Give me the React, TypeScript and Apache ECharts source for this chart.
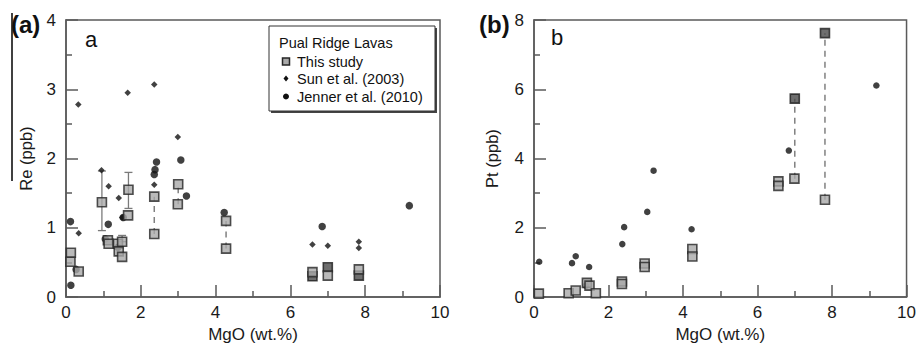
import React, { useEffect, useRef } from "react";
import * as echarts from "echarts";

// ---- Panel a: Re (ppb) vs MgO (wt.%) ----
const reStudyMgO = [0.13, 0.12, 0.34, 0.96, 1.12, 1.14, 1.39, 1.41, 1.5, 1.5, 1.67, 1.66, 2.36, 2.36, 3.0, 2.99, 4.28, 4.28, 6.59, 7.0, 7.83];
const reStudyRe = [0.64, 0.51, 0.37, 1.37, 0.82, 0.77, 0.77, 0.66, 0.8, 0.58, 1.55, 1.18, 1.45, 0.91, 1.63, 1.34, 1.1, 0.7, 0.36, 0.31, 0.4];
const reStudyDarkMgO = [6.59, 7.0, 7.83];
const reStudyDarkRe = [0.3, 0.43, 0.31];
const reSunMgO = [0.33, 1.65, 2.36, 2.99, 0.95, 1.14, 1.41, 1.5, 2.36, 0.34, 6.59, 7.0, 7.83, 7.83];
const reSunRe = [2.78, 2.95, 3.07, 2.31, 1.83, 1.6, 1.43, 1.15, 1.62, 0.92, 0.76, 0.74, 0.8, 0.71];
const reJennerMgO = [0.12, 0.13, 0.27, 1.13, 1.05, 1.39, 1.53, 2.42, 2.38, 2.36, 3.07, 3.22, 4.23, 6.85, 9.18];
const reJennerRe = [1.09, 0.17, 0.4, 1.05, 0.84, 0.72, 1.15, 1.95, 1.84, 1.77, 1.98, 1.46, 1.22, 1.02, 1.32];
// error bars: MgO, low, high
const reErrMgO = [0.96, 1.67, 1.5];
const reErrLow = [0.96, 1.28, 0.8];
const reErrHigh = [1.82, 1.8, 0.89];
// dashed connectors between replicate analyses
const reLinkMgO = [2.36, 3.0, 4.28];
const reLinkLow = [0.91, 1.34, 0.7];
const reLinkHigh = [1.45, 1.63, 1.1];

// ---- Panel b: Pt (ppb) vs MgO (wt.%) ----
const ptStudyMgO = [0.13, 0.93, 1.12, 1.42, 1.49, 1.66, 2.36, 2.36, 2.97, 2.97, 4.25, 4.25, 6.56, 6.56, 6.99, 7.81];
const ptStudyPt = [0.1, 0.11, 0.19, 0.41, 0.33, 0.11, 0.45, 0.38, 0.97, 0.87, 1.39, 1.17, 3.34, 3.21, 3.42, 2.81];
const ptStudyDarkMgO = [7.0, 7.81];
const ptStudyDarkPt = [5.73, 7.62];
const ptJennerMgO = [0.14, 1.02, 1.12, 1.48, 1.39, 2.37, 2.42, 3.04, 3.21, 4.23, 6.84, 9.19];
const ptJennerPt = [1.02, 0.98, 1.18, 0.87, 0.33, 1.53, 2.02, 2.46, 3.65, 1.96, 4.23, 6.11];
const ptLinkMgO = [7.0, 7.81];
const ptLinkLow = [3.42, 2.81];
const ptLinkHigh = [5.73, 7.62];

const legendTitle = "Pual Ridge Lavas";
const legendNames = ["This study", "Sun et al. (2003)", "Jenner et al. (2010)"];

const FONT = "Liberation Sans, Arial, Helvetica, sans-serif";
const AXIS = "#5a5a5a";

const zip = (a: number[], b: number[]) => a.map((v, i) => [v, b[i]]);
const zip3 = (a: number[], b: number[], c: number[]) => a.map((v, i) => [v, b[i], c[i]]);

function App() {
  const ref = useRef<HTMLDivElement>(null);
  useEffect(() => {
    if (!ref.current) return;
    const chart = echarts.init(ref.current, undefined, { renderer: "svg" });

    const xAxisBase = (gridIndex: number) => ({
      gridIndex,
      type: "value",
      min: 0,
      max: 10,
      interval: 2,
      name: "MgO (wt.%)",
      nameLocation: "middle",
      nameGap: 28,
      nameTextStyle: { fontFamily: FONT, fontSize: 17, color: "#1a1a1a" },
      axisLine: { show: true, lineStyle: { color: AXIS, width: 1.5 } },
      axisTick: { show: true, inside: true, length: 12, lineStyle: { color: AXIS, width: 1.5 } },
      minorTick: { show: true, splitNumber: 2, length: 6, lineStyle: { color: AXIS, width: 1.5 } },
      axisLabel: { fontFamily: FONT, fontSize: 17, color: "#1a1a1a", margin: 7 },
      splitLine: { show: false },
    });
    const yAxisBase = (gridIndex: number, max: number, interval: number, name: string, nameGap: number) => ({
      gridIndex,
      type: "value",
      min: 0,
      max,
      interval,
      name,
      nameLocation: "middle",
      nameGap,
      nameTextStyle: { fontFamily: FONT, fontSize: 16.5, color: "#1a1a1a" },
      axisLine: { show: true, lineStyle: { color: AXIS, width: 1.5 } },
      axisTick: { show: true, inside: true, length: 12, lineStyle: { color: AXIS, width: 1.5 } },
      minorTick: { show: true, splitNumber: 2, length: 6, lineStyle: { color: AXIS, width: 1.5 } },
      axisLabel: { fontFamily: FONT, fontSize: 17, color: "#1a1a1a", margin: 10 },
      splitLine: { show: false },
    });

    const squareStyle = { color: "#a9a9a9", borderColor: "#262626", borderWidth: 1.6 };
    const darkSquareStyle = { color: "#4a4a4a", borderColor: "#1e1e1e", borderWidth: 1.6 };

    const linkSeries = (xi: number, yi: number, data: number[][]) => ({
      type: "custom",
      xAxisIndex: xi,
      yAxisIndex: yi,
      z: 1,
      silent: true,
      encode: { x: 0, y: [1, 2] },
      data,
      renderItem: (_p: any, api: any) => {
        const x = api.value(0);
        const p1 = api.coord([x, api.value(1)]);
        const p2 = api.coord([x, api.value(2)]);
        return {
          type: "line",
          shape: { x1: p1[0], y1: p1[1], x2: p2[0], y2: p2[1] },
          style: { stroke: "#808080", lineWidth: 1.5, lineDash: [6, 5] },
        };
      },
    });

    const errSeries = (data: number[][]) => ({
      type: "custom",
      xAxisIndex: 0,
      yAxisIndex: 0,
      z: 1,
      silent: true,
      encode: { x: 0, y: [1, 2] },
      data,
      renderItem: (_p: any, api: any) => {
        const x = api.value(0);
        const p1 = api.coord([x, api.value(1)]);
        const p2 = api.coord([x, api.value(2)]);
        const w = 4;
        const st = { stroke: "#7a7a7a", lineWidth: 1.3 };
        return {
          type: "group",
          children: [
            { type: "line", shape: { x1: p1[0], y1: p1[1], x2: p2[0], y2: p2[1] }, style: st },
            { type: "line", shape: { x1: p1[0] - w, y1: p1[1], x2: p1[0] + w, y2: p1[1] }, style: st },
            { type: "line", shape: { x1: p2[0] - w, y1: p2[1], x2: p2[0] + w, y2: p2[1] }, style: st },
          ],
        };
      },
    });

    const txt = (x: number, y: number, text: string, size: number, weight = "normal", extra: any = {}) => ({
      type: "text",
      x,
      y,
      style: {
        text,
        fontFamily: FONT,
        fontSize: size,
        fontWeight: weight,
        fill: "#111",
        textVerticalAlign: "middle",
        ...extra,
      },
    });

    const option: any = {
      animation: false,
      backgroundColor: "#ffffff",
      grid: [
        { left: 66, top: 20, width: 374, height: 281.7, show: true, borderColor: AXIS, borderWidth: 1.5, backgroundColor: "transparent" },
        { left: 534, top: 20, width: 373.7, height: 281.7, show: true, borderColor: AXIS, borderWidth: 1.5, backgroundColor: "transparent" },
      ],
      xAxis: [xAxisBase(0), xAxisBase(1)],
      yAxis: [yAxisBase(0, 4, 1, "Re (ppb)", 32), yAxisBase(1, 8, 2, "Pt (ppb)", 34)],
      series: [
        linkSeries(0, 0, zip3(reLinkMgO, reLinkLow, reLinkHigh)),
        errSeries(zip3(reErrMgO, reErrLow, reErrHigh)),
        linkSeries(1, 1, zip3(ptLinkMgO, ptLinkLow, ptLinkHigh)),
        {
          name: legendNames[2], type: "scatter", xAxisIndex: 0, yAxisIndex: 0, z: 2,
          symbol: "circle", symbolSize: 7.5, itemStyle: { color: "#111" },
          data: zip(reJennerMgO, reJennerRe),
        },
        {
          name: legendNames[1], type: "scatter", xAxisIndex: 0, yAxisIndex: 0, z: 2,
          symbol: "diamond", symbolSize: 6.5, itemStyle: { color: "#111" },
          data: zip(reSunMgO, reSunRe),
        },
        {
          name: legendNames[0] + " ", type: "scatter", xAxisIndex: 0, yAxisIndex: 0, z: 3,
          symbol: "rect", symbolSize: 9, itemStyle: darkSquareStyle,
          data: zip(reStudyDarkMgO, reStudyDarkRe),
        },
        {
          name: legendNames[0], type: "scatter", xAxisIndex: 0, yAxisIndex: 0, z: 4,
          symbol: "rect", symbolSize: 9, itemStyle: squareStyle,
          data: zip(reStudyMgO, reStudyRe),
        },
        {
          name: legendNames[2], type: "scatter", xAxisIndex: 1, yAxisIndex: 1, z: 2,
          symbol: "circle", symbolSize: 6.5, itemStyle: { color: "#111" },
          data: zip(ptJennerMgO, ptJennerPt),
        },
        {
          name: legendNames[0], type: "scatter", xAxisIndex: 1, yAxisIndex: 1, z: 4,
          symbol: "rect", symbolSize: 9, itemStyle: squareStyle,
          data: zip(ptStudyMgO, ptStudyPt),
        },
        {
          name: legendNames[0] + " ", type: "scatter", xAxisIndex: 1, yAxisIndex: 1, z: 4,
          symbol: "rect", symbolSize: 9, itemStyle: darkSquareStyle,
          data: zip(ptStudyDarkMgO, ptStudyDarkPt),
        },
      ],
      graphic: [
        { type: "line", shape: { x1: 12, y1: 13, x2: 12, y2: 181 }, style: { stroke: "#000", lineWidth: 1.5 } },
        txt(11, 24, "(a)", 24, "bold"),
        txt(479, 24, "(b)", 24, "bold"),
        txt(85, 39, "a", 22),
        txt(551, 37, "b", 22),
        // legend box
        { type: "rect", shape: { x: 271, y: 28, width: 166, height: 85 }, style: { fill: "#444" }, z: 10 },
        { type: "rect", shape: { x: 269, y: 26, width: 166, height: 85 }, style: { fill: "#fff", stroke: "#333", lineWidth: 1 }, z: 11 },
        { ...txt(279, 42.5, legendTitle, 14.5), z: 12 },
        { type: "rect", shape: { x: 282.5, y: 58, width: 7, height: 7 }, style: { fill: "#a9a9a9", stroke: "#262626", lineWidth: 1.5 }, z: 12 },
        { ...txt(297, 62, legendNames[0], 14.5), z: 12 },
        { type: "polygon", shape: { points: [[286, 75.5], [288.5, 78.5], [286, 81.5], [283.5, 78.5]] }, style: { fill: "#111" }, z: 12 },
        { ...txt(297, 79, legendNames[1], 14.5), z: 12 },
        { type: "circle", shape: { cx: 286, cy: 96.5, r: 3 }, style: { fill: "#111" }, z: 12 },
        { ...txt(297, 96.5, legendNames[2], 14.5), z: 12 },
      ],
    };
    chart.setOption(option);
    return () => chart.dispose();
  }, []);
  return (
    <div
      ref={ref}
      style={{ width: 919, height: 348, position: "absolute", left: 0, top: 0, background: "#fff" }}
    />
  );
}

export default App;
